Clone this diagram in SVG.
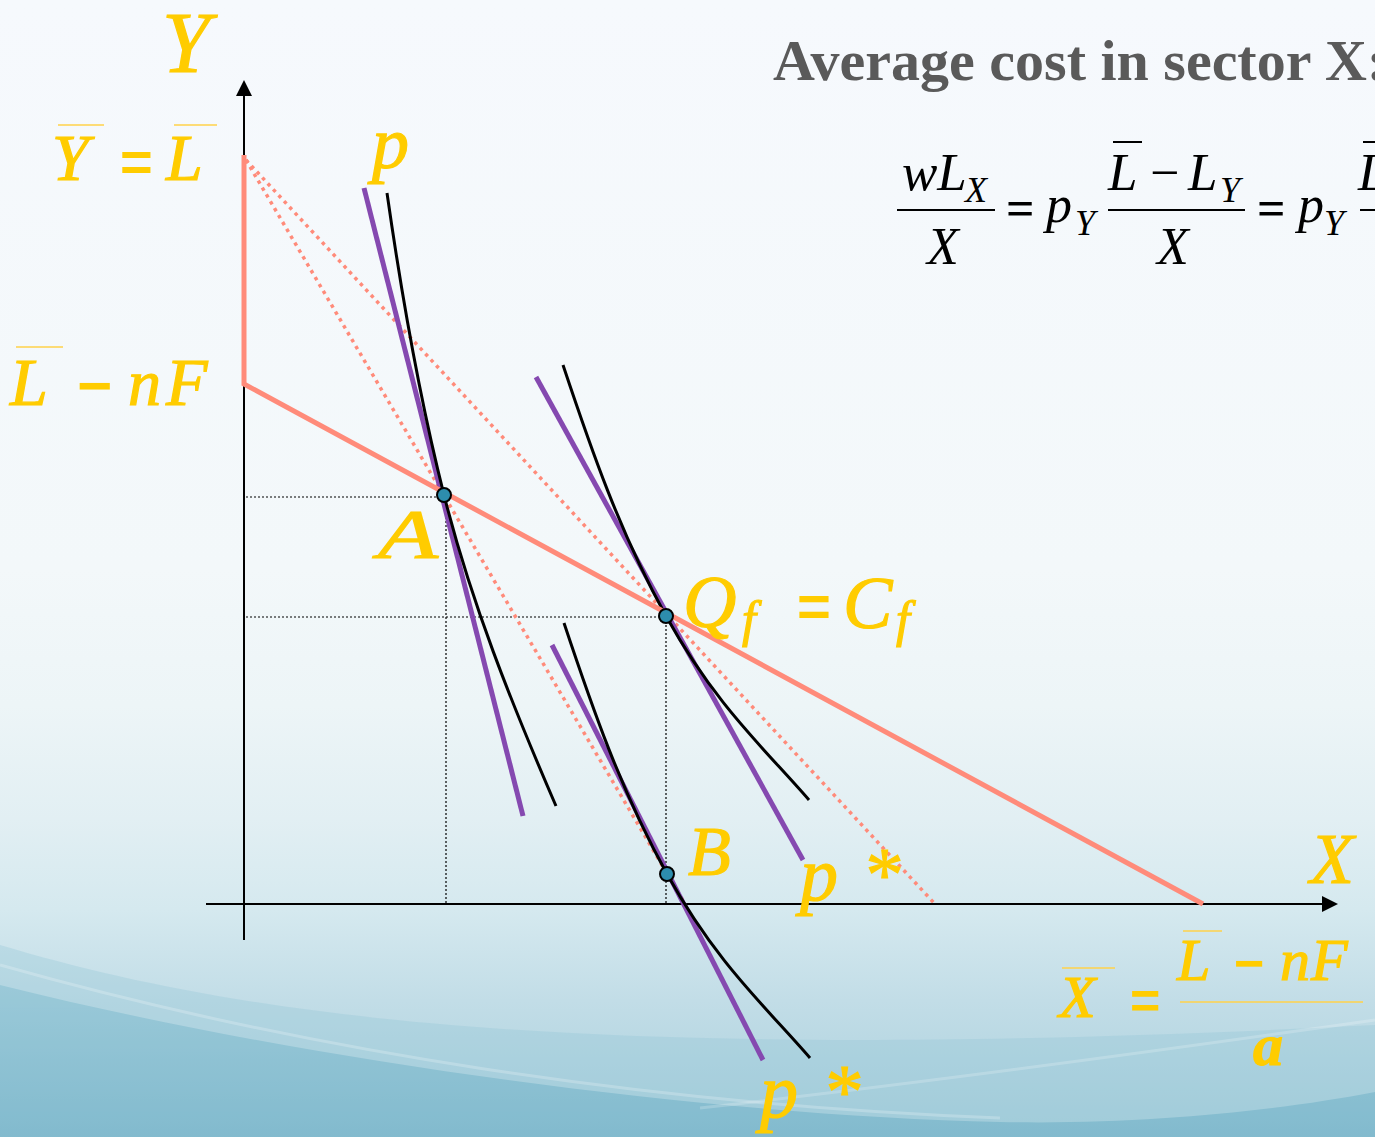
<svg xmlns="http://www.w3.org/2000/svg" width="1375" height="1137" viewBox="0 0 1375 1137">
<defs>
<linearGradient id="bg" x1="0" y1="0" x2="0" y2="1">
<stop offset="0" stop-color="#F6F9FD"/>
<stop offset="0.5" stop-color="#F3F8FA"/>
<stop offset="0.62" stop-color="#EDF5F7"/>
<stop offset="0.72" stop-color="#E2EFF3"/>
<stop offset="0.8" stop-color="#D5E9EF"/>
<stop offset="0.88" stop-color="#C2DDE7"/>
<stop offset="1" stop-color="#A8CFDC"/>
</linearGradient>
<linearGradient id="wave" x1="0" y1="0" x2="0" y2="1">
<stop offset="0" stop-color="#94C6D6"/>
<stop offset="1" stop-color="#6FAFC6"/>
</linearGradient>
<marker id="arr" viewBox="0 0 16 16" refX="1" refY="8" markerWidth="16" markerHeight="16" markerUnits="userSpaceOnUse" orient="auto">
<path d="M0,0 L16,8 L0,16 Z" fill="#000"/>
</marker>
<style>
.g{fill:#FFCC00;stroke:#FFCC00;stroke-width:1.2;font-family:"Liberation Serif","DejaVu Serif",serif;font-style:italic}
.gs{fill:#FFCC00;font-family:"Liberation Sans","DejaVu Sans",sans-serif;font-weight:bold}
.ol{stroke:#FFD24A;stroke-width:1.5}
.m{fill:#000;font-family:"Liberation Serif","DejaVu Serif",serif;font-style:italic}
.mu{fill:#000;font-family:"Liberation Serif","DejaVu Serif",serif}
.bar{stroke:#000;stroke-width:2}
.pink{stroke:#FF8B7A;stroke-width:5;fill:none}
.pdot{stroke:#FF8B7A;stroke-width:3.5;stroke-dasharray:3.5 4.5;fill:none}
.gdot{stroke:#000;stroke-width:1.2;stroke-dasharray:2 2;fill:none}
.pur{stroke:#8549B0;stroke-width:5;fill:none}
.cur{stroke:#000;stroke-width:3;fill:none}
.dot{fill:#2D8DAD;stroke:#000;stroke-width:2}
.ax{stroke:#000;stroke-width:2;fill:none}
</style>
</defs>
<g id="background">
<rect width="1375" height="1137" fill="url(#bg)"/>
<path d="M0,985 C300,1060 700,1115 1000,1122 C1150,1125 1280,1110 1375,1092 L1375,1137 L0,1137 Z" fill="url(#wave)" opacity="0.75"/>
<path d="M0,945 C250,1020 600,1065 1375,1025 L1375,1137 L0,1137 Z" fill="#8EC3D4" opacity="0.3"/>
<path d="M0,965 C300,1050 650,1105 1000,1118" stroke="#FFFFFF" stroke-opacity="0.22" stroke-width="3" fill="none"/>
<path d="M700,1108 C950,1080 1200,1045 1375,1020" stroke="#FFFFFF" stroke-opacity="0.2" stroke-width="3" fill="none"/>
</g>
<g id="title">
<text x="773" y="80" font-family="Liberation Serif, serif" font-weight="bold" font-size="58" fill="#5A5A5A">Average cost in sector X:</text>
</g>
<g id="formula">
<text class="m" x="902" y="190" font-size="53">wL</text>
<text class="m" x="965" y="202" font-size="36">X</text>
<line class="bar" x1="897" y1="210" x2="995" y2="210"/>
<text class="m" x="927" y="264" font-size="52">X</text>
<text class="mu" x="1006" y="225" font-size="50" font-weight="bold">=</text>
<text class="m" x="1046" y="222" font-size="52">p</text>
<text class="m" x="1075" y="235" font-size="36">Y</text>
<line class="bar" x1="1113" y1="142" x2="1142" y2="142"/>
<text class="m" x="1108" y="190" font-size="53">L</text>
<text class="mu" x="1150" y="190" font-size="52">−</text>
<text class="m" x="1188" y="190" font-size="53">L</text>
<text class="m" x="1220" y="202" font-size="36">Y</text>
<line class="bar" x1="1108" y1="210" x2="1245" y2="210"/>
<text class="m" x="1157" y="264" font-size="52">X</text>
<text class="mu" x="1257" y="225" font-size="50" font-weight="bold">=</text>
<text class="m" x="1298" y="222" font-size="52">p</text>
<text class="m" x="1324" y="235" font-size="36">Y</text>
<line class="bar" x1="1363" y1="142" x2="1375" y2="142"/>
<text class="m" x="1358" y="190" font-size="53">L</text>
<line class="bar" x1="1360" y1="210" x2="1375" y2="210"/>
</g>
<g id="connectors">
<line class="gdot" x1="246" y1="497" x2="444" y2="497"/>
<line class="gdot" x1="246" y1="617" x2="666" y2="617"/>
<line class="gdot" x1="446" y1="497" x2="446" y2="904"/>
<line class="gdot" x1="666" y1="617" x2="666" y2="904"/>
<line class="pdot" x1="246" y1="160" x2="935" y2="904"/>
<line class="pdot" x1="246" y1="160" x2="685" y2="904"/>
<line class="ax" x1="244" y1="940" x2="244" y2="95" marker-end="url(#arr)"/>
<line class="ax" x1="206" y1="904" x2="1323" y2="904" marker-end="url(#arr)"/>
<line class="pur" x1="364" y1="188" x2="523" y2="816"/>
<line class="pur" x1="536" y1="377" x2="803" y2="860"/>
<line class="pur" x1="552" y1="645" x2="763" y2="1060"/>
<path class="cur" d="M387,193 C401,291 419,396 444,495 C471,602 511,702 556,806"/>
<path class="cur" d="M563,365 C591,449 620,533 666,616 C716,706 764,748 809,800"/>
<path class="cur" d="M564,623 C592,707 621,791 667,874 C717,964 765,1006 810,1058"/>
<polyline class="pink" points="244,155 244,384 1203,904"/>
</g>
<g id="point-A"><circle class="dot" cx="444" cy="495" r="7"/></g>
<g id="point-Q"><circle class="dot" cx="666" cy="616" r="7"/></g>
<g id="point-B"><circle class="dot" cx="667" cy="874" r="7"/></g>
<g id="labels">
<text class="g" x="162" y="72" font-size="86">Y</text>
<text class="g" x="52" y="180" font-size="66">Y</text>
<line class="ol" x1="58" y1="125" x2="104" y2="125"/>
<text class="gs" x="120" y="181" font-size="56">=</text>
<text class="g" x="166" y="180" font-size="66">L</text>
<line class="ol" x1="174" y1="125" x2="217" y2="125"/>
<text class="g" x="372" y="168" font-size="74">p</text>
<text class="g" x="10" y="405" font-size="68">L</text>
<line class="ol" x1="16" y1="347" x2="63" y2="347"/>
<text class="gs" x="77" y="406" font-size="60">−</text>
<text class="g" x="128" y="405" font-size="66">n</text>
<text class="g" x="166" y="405" font-size="68">F</text>
<text class="g" x="378" y="558" font-size="70" textLength="60" lengthAdjust="spacingAndGlyphs">A</text>
<text class="g" x="683" y="627" font-size="74">Q</text>
<text class="g" x="742" y="636" font-size="50">f</text>
<text class="gs" x="797" y="626" font-size="58">=</text>
<text class="g" x="843" y="628" font-size="74">C</text>
<text class="g" x="896" y="636" font-size="50">f</text>
<text class="g" x="688" y="875" font-size="70">B</text>
<text class="g" x="800" y="900" font-size="76">p</text>
<text class="g" x="862" y="900" font-size="76">*</text>
<text class="g" x="760" y="1117" font-size="76">p</text>
<text class="g" x="822" y="1117" font-size="76">*</text>
<text class="g" x="1310" y="883" font-size="72">X</text>
<text class="g" x="1059" y="1017" font-size="60">X</text>
<line class="ol" x1="1062" y1="968" x2="1115" y2="968"/>
<text class="gs" x="1130" y="1018" font-size="52">=</text>
<text class="g" x="1177" y="980" font-size="60">L</text>
<line class="ol" x1="1183" y1="931" x2="1222" y2="931"/>
<text class="gs" x="1234" y="981" font-size="52">−</text>
<text class="g" x="1280" y="980" font-size="60">n</text>
<text class="g" x="1311" y="980" font-size="60">F</text>
<line class="ol" x1="1180" y1="1002" x2="1363" y2="1002"/>
<text class="g" x="1253" y="1065" font-size="60" font-weight="bold">a</text>
</g>
</svg>
